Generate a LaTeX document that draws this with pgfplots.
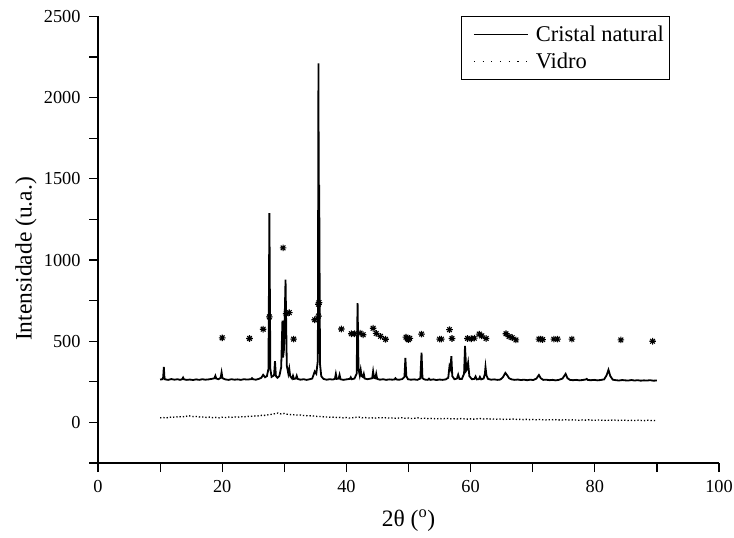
\documentclass[border=0pt]{standalone}
\usepackage{fontspec}
\setmainfont{Liberation Serif}
\usepackage{pgfplots}
\pgfplotsset{compat=1.18}
\pgfdeclareplotmark{star8}{%
  \pgfpathmoveto{\pgfqpoint{-\pgfplotmarksize}{0pt}}\pgfpathlineto{\pgfqpoint{\pgfplotmarksize}{0pt}}%
  \pgfpathmoveto{\pgfqpoint{0pt}{-\pgfplotmarksize}}\pgfpathlineto{\pgfqpoint{0pt}{\pgfplotmarksize}}%
  \pgfpathmoveto{\pgfqpoint{-0.707\pgfplotmarksize}{-0.707\pgfplotmarksize}}\pgfpathlineto{\pgfqpoint{0.707\pgfplotmarksize}{0.707\pgfplotmarksize}}%
  \pgfpathmoveto{\pgfqpoint{-0.707\pgfplotmarksize}{0.707\pgfplotmarksize}}\pgfpathlineto{\pgfqpoint{0.707\pgfplotmarksize}{-0.707\pgfplotmarksize}}%
  \pgfusepathqstroke}
\begin{document}
\begin{tikzpicture}
\useasboundingbox (0pt,0pt) rectangle (734pt,538pt);
\begin{axis}[
  at={(98pt,75pt)}, anchor=south west,
  scale only axis, width=621pt, height=446.5pt,
  xmin=0, xmax=100, ymin=-250, ymax=2500,
  axis x line*=bottom, axis y line*=left,
  axis line style={-, line width=1.2pt},
  every tick/.style={black, line width=1.2pt},
  tick align=outside,
  major tick length=9pt, minor tick length=9pt,
  xtick={0,20,...,100}, minor xtick={10,30,50,70,90},
  ytick={0,500,...,2500}, minor ytick={-250,250,750,1250,1750,2250},
  /pgf/number format/assume math mode=true,
  /pgf/number format/set thousands separator={},
  tick label style={font=\fontsize{18.3}{22}\selectfont},
  yticklabel style={xshift=-5pt},
  xticklabel style={yshift=-5pt},
  xlabel={2θ (\textsuperscript{o})},
  ylabel={Intensidade (u.a.)},
  label style={font=\fontsize{23.5}{28}\selectfont},
  xlabel style={at={(axis description cs:0.5,0)}, anchor=center, yshift=-58pt},
  ylabel style={at={(axis description cs:0,0.457)}, anchor=center, yshift=72pt},
  legend style={at={(axis description cs:0.92,1)}, anchor=north east, draw=black, line width=0.8pt,
    font=\fontsize{22.5}{27}\selectfont, inner xsep=2pt, inner ysep=7pt, row sep=6pt,
    nodes={inner xsep=3pt, inner ysep=2pt}},
  legend cell align=left,
  legend image code/.code={\path[draw=none] (0pt,0pt) -- (69pt,0pt); \draw[#1] (10pt,0pt) -- (64pt,0pt);},
]
\addlegendimage{black, line width=1.2pt}
\addlegendentry{Cristal natural}
\addlegendimage{black, line width=1.2pt, dash pattern=on 1.2pt off 7.5pt}
\addlegendentry{Vidro}

% Cristal natural
\addplot[black, line width=1.8pt, forget plot] coordinates {
(10.0,264) (10.4,266) (10.5,280) (10.6,341) (10.7,275) (10.8,265) (11.3,262) (11.8,267) (12.3,263) (12.8,266)
(13.2,262) (13.55,266) (13.7,276) (13.85,265) (14.3,262) (14.8,264) (15.3,261) (15.8,265) (16.3,262) (16.8,266)
(17.3,263) (17.8,265) (18.3,268) (18.75,272) (18.9,287) (19.05,270) (19.4,266) (19.75,275) (19.9,308) (20.05,272)
(20.5,265) (21.0,262) (21.5,266) (22.0,263) (22.5,265) (23.0,262) (23.5,266) (24.0,264) (24.65,266) (24.8,272)
(24.95,266) (25.4,263) (25.9,268) (26.3,275) (26.6,293) (26.9,278) (27.2,285) (27.45,330) (27.6,1289) (27.75,330)
(27.95,280) (28.35,290) (28.5,377) (28.65,285) (28.9,275) (29.2,285) (29.5,340) (29.7,627) (29.8,400) (29.95,450)
(30.2,879) (30.4,350) (30.65,300) (30.8,331) (30.95,285) (31.25,270) (31.4,287) (31.55,268) (31.85,270) (32.0,287)
(32.15,268) (32.6,263) (33.1,266) (33.6,262) (34.1,266) (34.5,270) (34.9,314) (35.15,300) (35.4,380) (35.5,2211)
(35.55,1300) (35.62,1463) (35.75,360) (35.95,285) (36.3,268) (36.8,263) (37.3,266) (37.8,264) (38.15,268) (38.3,299)
(38.45,268) (38.75,270) (38.9,293) (39.05,266) (39.5,262) (40.0,265) (40.55,268) (40.7,278) (40.85,266) (41.3,270)
(41.65,300) (41.8,735) (41.95,330) (42.15,290) (42.3,324) (42.45,285) (42.65,280) (42.8,299) (42.95,270) (43.4,266)
(43.9,270) (44.15,272) (44.3,314) (44.45,275) (44.65,272) (44.8,299) (44.95,268) (45.4,263) (45.9,266) (46.4,262)
(46.9,265) (47.4,263) (47.75,265) (47.9,272) (48.05,264) (48.5,263) (49.0,267) (49.35,280) (49.5,397) (49.65,285)
(49.9,266) (50.4,263) (50.9,265) (51.4,262) (51.9,270) (52.1,429) (52.25,272) (52.6,264) (53.1,262) (53.3,270)
(53.5,262) (54.0,265) (54.5,261) (55.0,264) (55.5,262) (56.0,265) (56.4,275) (56.6,345) (56.75,330) (56.9,408)
(57.05,285) (57.4,266) (57.8,270) (58.0,294) (58.2,268) (58.6,268) (58.95,300) (59.1,471) (59.3,320) (59.45,330)
(59.6,366) (59.8,285) (60.2,266) (60.6,268) (60.8,283) (61.0,265) (61.35,267) (61.5,280) (61.7,265) (62.1,270)
(62.3,300) (62.4,341) (62.55,290) (62.8,268) (63.3,263) (63.8,265) (64.3,262) (64.8,264) (65.2,278) (65.6,305)
(65.9,290) (66.2,272) (66.6,265) (67.1,262) (67.6,264) (68.1,261) (68.6,263) (69.1,260) (69.6,263) (70.1,261)
(70.6,270) (71.0,292) (71.3,272) (71.7,262) (72.2,263) (72.7,260) (73.2,262) (73.7,259) (74.2,262) (74.8,270)
(75.3,299) (75.6,272) (76.0,262) (76.5,260) (77.0,262) (77.5,259) (78.0,261) (78.5,264) (78.7,268) (78.9,261)
(79.4,260) (79.9,262) (80.4,259) (80.9,261) (81.5,265) (81.9,290) (82.2,324) (82.5,285) (82.9,263) (83.4,260)
(83.9,258) (84.4,261) (84.9,259) (85.4,258) (85.9,261) (86.4,258) (86.9,260) (87.4,257) (87.9,259) (88.4,258)
(88.9,260) (89.4,257) (90.0,258)
};

% Vidro
\addplot[black, line width=1.3pt, dash pattern=on 1.3pt off 2pt, forget plot] coordinates {
(10.0,28) (10.5,30) (11.0,27) (11.5,33) (12.0,31) (12.5,35) (13.0,33) (13.5,37) (14.0,34) (14.5,42)
(15.0,38) (15.5,35) (16.0,37) (16.5,32) (17.0,34) (17.5,30) (18.0,33) (18.5,29) (19.0,31) (19.5,28)
(20.0,32) (20.5,30) (21.0,33) (21.5,31) (22.0,34) (22.5,32) (23.0,36) (23.5,33) (24.0,38) (24.5,36)
(25.0,40) (25.5,38) (26.0,42) (26.5,44) (27.0,43) (27.5,48) (28.0,50) (28.5,54) (29.0,58) (29.5,52)
(30.0,55) (30.5,50) (31.0,48) (31.5,47) (32.0,45) (32.5,46) (33.0,43) (33.5,42) (34.0,40) (34.5,41)
(35.0,38) (35.5,36) (36.0,37) (36.5,33) (37.0,34) (37.5,31) (38.0,33) (38.5,30) (39.0,31) (39.5,28)
(40.0,30) (40.5,27) (41.0,29) (41.5,31) (42.0,33) (42.5,28) (43.0,30) (43.5,27) (44.0,29) (44.5,26)
(45.0,28) (45.5,30) (46.0,27) (46.5,29) (47.0,26) (47.5,28) (48.0,25) (48.5,27) (49.0,29) (49.5,25)
(50.0,27) (50.5,24) (51.0,26) (51.5,28) (52.0,24) (52.5,26) (53.0,23) (53.5,25) (54.0,24) (54.5,22)
(55.0,24) (55.5,22) (56.0,25) (56.5,23) (57.0,21) (57.5,23) (58.0,21) (58.5,24) (59.0,22) (59.5,20)
(60.0,22) (60.5,20) (61.0,22) (61.5,24) (62.0,21) (62.5,23) (63.0,20) (63.5,22) (64.0,19) (64.5,21)
(65.0,20) (65.5,18) (66.0,20) (66.5,19) (67.0,21) (67.5,18) (68.0,19) (68.5,17) (69.0,19) (69.5,17)
(70.0,18) (70.5,16) (71.0,18) (71.5,17) (72.0,15) (72.5,17) (73.0,16) (73.5,18) (74.0,15) (74.5,16)
(75.0,15) (75.5,17) (76.0,14) (76.5,16) (77.0,15) (77.5,13) (78.0,15) (78.5,14) (79.0,16) (79.5,14)
(80.0,13) (80.5,15) (81.0,14) (81.5,12) (82.0,14) (82.5,13) (83.0,15) (83.5,13) (84.0,12) (84.5,14)
(85.0,13) (85.5,11) (86.0,13) (86.5,12) (87.0,14) (87.5,12) (88.0,11) (88.5,13) (89.0,12) (89.5,11)
(90.0,12)
};

% asterisks (peak markers)
\addplot[only marks, mark=star8, mark size=3.3pt, mark options={line width=1.1pt}, black, forget plot] coordinates {
(20.0,521) (24.4,517) (26.6,574) (27.6,650) (29.8,1075) (30.3,669) (30.8,676) (31.5,513) (34.9,632)
(35.5,655) (35.5,728) (35.6,738) (39.2,575) (40.8,546) (41.3,546) (42.2,550) (42.7,540) (44.3,580)
(44.8,548) (45.5,530) (46.3,512) (49.6,525) (49.8,515) (50.0,510) (50.2,518) (52.1,544) (55.0,513)
(55.3,513) (56.6,571) (57.0,517) (59.5,517) (60.1,515) (60.6,519) (61.4,544) (61.8,533) (62.5,517)
(65.7,546) (66.2,529) (66.7,522) (67.3,508) (71.0,513) (71.3,513) (71.6,510) (73.4,513) (74.0,513)
(76.3,513) (84.2,508) (89.3,500)
};
\end{axis}
\end{tikzpicture}
\end{document}
